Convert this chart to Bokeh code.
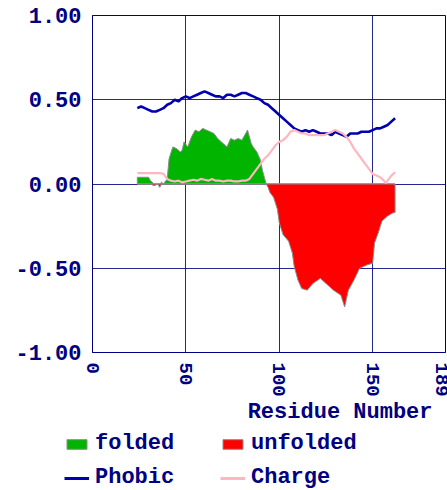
from bokeh.plotting import figure
from bokeh.layouts import column
from bokeh.models import FixedTicker, Legend, LegendItem, Label, NumeralTickFormatter, Range1d
from bokeh.embed import file_html
from bokeh.resources import INLINE

# ---- data ----
fold_res = [24, 26, 28, 30, 31, 33, 35, 36, 37, 38, 40, 41, 43, 45, 47, 48, 49, 51, 53,
            55, 57, 59, 61, 63, 65, 67, 69, 71, 72, 74, 76, 78, 80, 82, 83, 85, 86, 88,
            90, 91, 92, 93, 94, 95, 97, 99, 100, 102, 105, 107, 108, 110, 112, 115, 118,
            122, 125, 129, 133, 135, 136, 137, 140, 143, 147, 150, 151, 153, 155, 158,
            161, 162]
fold_index = [0.04, 0.04, 0.04, 0.04, 0.02, -0.01, 0.00, -0.02, 0.01, 0.00, 0.03, 0.15,
              0.22, 0.21, 0.19, 0.20, 0.25, 0.22, 0.28, 0.32, 0.31, 0.33, 0.32, 0.31,
              0.30, 0.27, 0.25, 0.23, 0.22, 0.27, 0.26, 0.27, 0.26, 0.30, 0.32, 0.24,
              0.22, 0.19, 0.14, 0.08, 0.04, 0.00, -0.02, -0.05, -0.08, -0.15, -0.23,
              -0.30, -0.34, -0.41, -0.49, -0.57, -0.62, -0.63, -0.59, -0.56, -0.59,
              -0.63, -0.66, -0.73, -0.68, -0.63, -0.57, -0.50, -0.48, -0.47, -0.35,
              -0.29, -0.22, -0.19, -0.17, -0.17]

phobic_res = [24, 26, 28, 30, 32, 34, 36, 38, 40, 42, 44, 46, 48, 50, 52, 54, 56, 58, 60,
              62, 64, 66, 68, 70, 72, 74, 76, 78, 80, 82, 84, 86, 88, 90, 92, 94, 96, 98,
              100, 102, 104, 106, 108, 110, 112, 114, 116, 118, 120, 122, 124, 126, 128,
              130, 132, 134, 136, 138, 140, 142, 144, 146, 148, 150, 152, 154, 156, 158,
              160, 162]
phobic = [0.45, 0.46, 0.45, 0.44, 0.43, 0.43, 0.44, 0.45, 0.47, 0.48, 0.50, 0.49, 0.51,
          0.52, 0.51, 0.52, 0.53, 0.54, 0.55, 0.54, 0.53, 0.52, 0.52, 0.51, 0.53, 0.53,
          0.52, 0.53, 0.54, 0.54, 0.53, 0.52, 0.51, 0.50, 0.48, 0.47, 0.45, 0.43, 0.41,
          0.39, 0.37, 0.35, 0.33, 0.32, 0.31, 0.32, 0.31, 0.32, 0.31, 0.30, 0.30, 0.30,
          0.29, 0.31, 0.30, 0.29, 0.28, 0.30, 0.30, 0.30, 0.31, 0.31, 0.31, 0.32, 0.33,
          0.33, 0.34, 0.35, 0.37, 0.39]

charge_res = [24, 28, 32, 36, 38, 40, 42, 44, 46, 48, 50, 52, 54, 56, 58, 60, 62, 64, 66,
              68, 70, 72, 74, 76, 78, 80, 82, 84, 86, 88, 90, 92, 94, 96, 98, 100, 102,
              104, 106, 108, 110, 112, 114, 116, 118, 120, 122, 124, 126, 128, 130, 132,
              134, 136, 138, 140, 142, 144, 146, 148, 150, 152, 154, 156, 157, 158, 160,
              162]
charge = [0.065, 0.065, 0.065, 0.065, 0.06, 0.03, 0.02, 0.015, 0.02, 0.01, 0.015, 0.02,
          0.025, 0.02, 0.03, 0.025, 0.02, 0.03, 0.02, 0.02, 0.015, 0.02, 0.02, 0.015,
          0.015, 0.02, 0.02, 0.03, 0.06, 0.09, 0.12, 0.15, 0.17, 0.20, 0.23, 0.25, 0.26,
          0.28, 0.31, 0.32, 0.31, 0.30, 0.30, 0.29, 0.29, 0.29, 0.29, 0.29, 0.30, 0.31,
          0.32, 0.31, 0.30, 0.28, 0.25, 0.21, 0.18, 0.15, 0.12, 0.09, 0.06, 0.05, 0.04,
          0.02, 0.005, 0.02, 0.05, 0.07]

x_ticks = [0, 50, 100, 150, 189]
y_ticks = [-1.0, -0.5, 0.0, 0.5, 1.0]
x_label = "Residue Number"
series_names = ["folded", "unfolded", "Phobic", "Charge"]

NAVY = "#000080"
FONT = "Liberation Mono"
FS = "22px"
GREEN = "#00b400"
RED = "#ff0000"
EDGE = "#8c8c8c"
BLUE = "#0000b0"
PINK = "#ffb6c1"

# polygons for the positive (folded) and negative (unfolded) parts
folded = [max(v, 0.0) for v in fold_index]
unfolded = [min(v, 0.0) for v in fold_index]
poly_x = [fold_res[0]] + fold_res + [fold_res[-1]]
pos_y = [0.0] + folded + [0.0]
neg_y = [0.0] + unfolded + [0.0]

p = figure(width=447, height=400, x_range=Range1d(x_ticks[0], x_ticks[-1]),
           y_range=Range1d(y_ticks[0], y_ticks[-1]),
           output_backend="svg", toolbar_location=None,
           min_border_left=92, min_border_right=2, min_border_top=15, min_border_bottom=48)

p.background_fill_color = "white"
p.border_fill_color = "white"
p.outline_line_color = NAVY
p.outline_line_width = 1

for ax in (p.xaxis[0], p.yaxis[0]):
    ax.axis_line_color = NAVY
    ax.major_tick_in = 0
    ax.major_tick_out = 0
    ax.minor_tick_in = 0
    ax.minor_tick_out = 0
    ax.major_label_text_font = FONT
    ax.major_label_text_font_style = "bold"
    ax.major_label_text_font_size = FS
    ax.major_label_text_color = NAVY

p.xaxis.ticker = FixedTicker(ticks=x_ticks)
p.yaxis.ticker = FixedTicker(ticks=y_ticks)
p.yaxis.formatter = NumeralTickFormatter(format="0.00")
p.xaxis.major_label_orientation = "vertical"
p.xaxis.major_label_text_font_size = "19px"
p.xaxis.major_label_standoff = 10
p.yaxis.major_label_standoff = 11

p.grid.grid_line_color = NAVY
p.grid.grid_line_width = 1
p.grid.grid_line_alpha = 0.85

p.patch(poly_x, pos_y, fill_color=GREEN, line_color=EDGE, line_width=1)
p.patch(poly_x, neg_y, fill_color=RED, line_color=EDGE, line_width=1)
p.line(phobic_res, phobic, line_color=BLUE, line_width=2.6)
p.line(charge_res, charge, line_color=PINK, line_width=2.2)

# ---- lower strip: axis title and legend ----
q = figure(width=447, height=90, x_range=Range1d(0, 447), y_range=Range1d(90, 0),
           x_axis_type=None, y_axis_type=None, output_backend="svg", toolbar_location=None,
           min_border=0, min_border_left=0, min_border_right=0, min_border_top=0,
           min_border_bottom=0)
q.outline_line_color = None
q.background_fill_color = "white"
q.border_fill_color = "white"
for fig in (p, q):
    if "frame_align" in fig.properties():
        fig.frame_align = False

q.add_layout(Label(x=432, y=12, text=x_label, text_align="right", text_baseline="middle",
                   text_font=FONT, text_font_style="bold", text_font_size=FS, text_color=NAVY))

# legend proxies (kept outside the visible range)
hid = [-1000, -1000, -1000]
pg = q.patch(hid, hid, fill_color=GREEN, line_color=EDGE, line_width=1)
pr = q.patch(hid, hid, fill_color=RED, line_color=EDGE, line_width=1)
pb = q.line(hid[:2], hid[:2], line_color=BLUE, line_width=3)
pc = q.line(hid[:2], hid[:2], line_color=PINK, line_width=3)

common = dict(padding=0, margin=0, spacing=9, label_height=22,
              glyph_width=25, glyph_height=12, label_standoff=6,
              label_text_font=FONT, label_text_font_style="bold", label_text_font_size=FS,
              label_text_color=NAVY, border_line_alpha=0, background_fill_alpha=0)
leg1 = Legend(items=[LegendItem(label=series_names[0], renderers=[pg]),
                     LegendItem(label=series_names[2], renderers=[pb])],
              location=(64, 0), **common)
leg2 = Legend(items=[LegendItem(label=series_names[1], renderers=[pr]),
                     LegendItem(label=series_names[3], renderers=[pc])],
              location=(220, 0), **common)
q.add_layout(leg1, "center")
q.add_layout(leg2, "center")

layout = column(p, q, spacing=0)
open("out.html", "w").write(file_html(layout, INLINE))
